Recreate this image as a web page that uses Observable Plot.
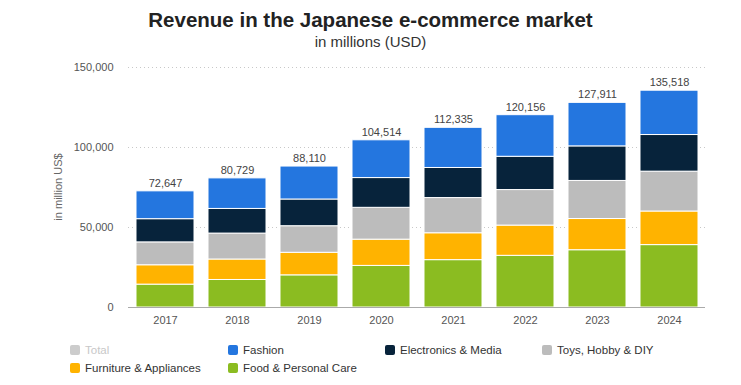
<!DOCTYPE html>
<html><head><meta charset="utf-8">
<script src="https://cdn.jsdelivr.net/npm/d3@7"></script>
<script src="https://cdn.jsdelivr.net/npm/@observablehq/plot@0.6"></script>
<style>
html,body{margin:0;padding:0;background:#fff}
body{width:741px;height:385px;overflow:hidden;font-family:"Liberation Sans",Arial,sans-serif;position:relative}
#head{height:55px;text-align:center;color:#222}
#head .t{font-weight:bold;font-size:20.5px;padding-top:9px;line-height:22px}
#head .s{font-size:15px;line-height:18px;color:#333;padding-top:2px}
#chart{height:280px}
#ylab{position:absolute;left:58px;top:187px;width:0;height:0}
#ylab span{position:absolute;left:0;top:0;transform:translate(-50%,-50%) rotate(-90deg);white-space:nowrap;font-size:11px;color:#666}
#legend{position:absolute;left:0;top:344px;width:741px;height:40px}
.li{position:absolute;display:flex;align-items:center;font-size:11.5px;color:#333;white-space:nowrap}
.sw{width:10px;height:10px;border-radius:2px;margin-right:5px}
</style></head><body>
<div id="head"><div class="t">Revenue in the Japanese e-commerce market</div><div class="s">in millions (USD)</div></div>
<div id="chart"></div>
<div id="ylab"><span>in million US$</span></div>
<div id="legend"></div>
<script>
const years = ["2017","2018","2019","2020","2021","2022","2023","2024"];
const totals = [72647, 80729, 88110, 104514, 112335, 120156, 127911, 135518];
const food = [14300, 17200, 20100, 26000, 29600, 32300, 35800, 39000];
const furniture = [12100, 12800, 14100, 16400, 16800, 18900, 19500, 21000];
const toys = [14300, 16200, 16600, 19900, 22000, 22200, 23800, 24900];
const electronics = [14500, 15400, 16700, 18600, 18800, 20800, 21600, 22900];
const fashion = [17400, 19100, 20600, 23600, 25100, 26000, 27200, 27700];
const seriesNames = ["Food & Personal Care","Furniture & Appliances","Toys, Hobby & DIY","Electronics & Media","Fashion"];
const seriesColors = ["#8bbc21","#ffb300","#bcbcbc","#07233b","#2476df"];
const yTicks = [0, 50000, 100000, 150000];

const seriesValues = [food, furniture, toys, electronics, fashion];
const rows = [];
seriesNames.forEach((name, i) => years.forEach((y, j) => rows.push({year: y, series: name, value: seriesValues[i][j]})));
const totalRows = years.map((y, j) => ({year: y, total: totals[j]}));
const fmt = d3.format(",");

const chart = Plot.plot({
  width: 741, height: 280,
  marginLeft: 128, marginRight: 36, marginTop: 12, marginBottom: 28,
  style: {fontFamily: "Liberation Sans, Arial, sans-serif", fontSize: "11px", color: "#555", background: "#fff"},
  x: {domain: years, paddingInner: 0.2, paddingOuter: 0.1, label: null},
  y: {domain: [0, 150000], label: null},
  color: {domain: seriesNames, range: seriesColors},
  marks: [
    Plot.gridY(yTicks.slice(1), {stroke: "#c8c8c8", strokeOpacity: 1, strokeDasharray: "1,3"}),
    Plot.barY(rows, {x: "year", y: "value", fill: "series", order: seriesNames, stroke: "#fff", strokeWidth: 1}),
    Plot.ruleY([0], {stroke: "#aaa"}),
    Plot.axisY({ticks: yTicks, tickSize: 0, tickPadding: 15, tickFormat: fmt, label: null}),
    Plot.axisX({tickSize: 0, tickPadding: 9, label: null}),
    Plot.text(totalRows, {x: "year", y: "total", text: d => fmt(d.total), dy: -8, fill: "#444", fontSize: 11})
  ]
});
document.getElementById("chart").appendChild(chart);

const legendItems = [
  {name: "Total", color: "#cccccc", text: "#c8c8c8", x: 70, row: 0},
  {name: "Fashion", color: "#2476df", x: 228, row: 0},
  {name: "Electronics & Media", color: "#07233b", x: 385, row: 0},
  {name: "Toys, Hobby & DIY", color: "#bcbcbc", x: 542, row: 0},
  {name: "Furniture & Appliances", color: "#ffb300", x: 70, row: 1},
  {name: "Food & Personal Care", color: "#8bbc21", x: 228, row: 1}
];
const lg = document.getElementById("legend");
legendItems.forEach(it => {
  const d = document.createElement("div");
  d.className = "li";
  d.style.left = it.x + "px";
  d.style.top = (it.row * 18) + "px";
  if (it.text) d.style.color = it.text;
  d.innerHTML = `<span class="sw" style="background:${it.color}"></span><span>${it.name}</span>`;
  lg.appendChild(d);
});
</script>
</body></html>
